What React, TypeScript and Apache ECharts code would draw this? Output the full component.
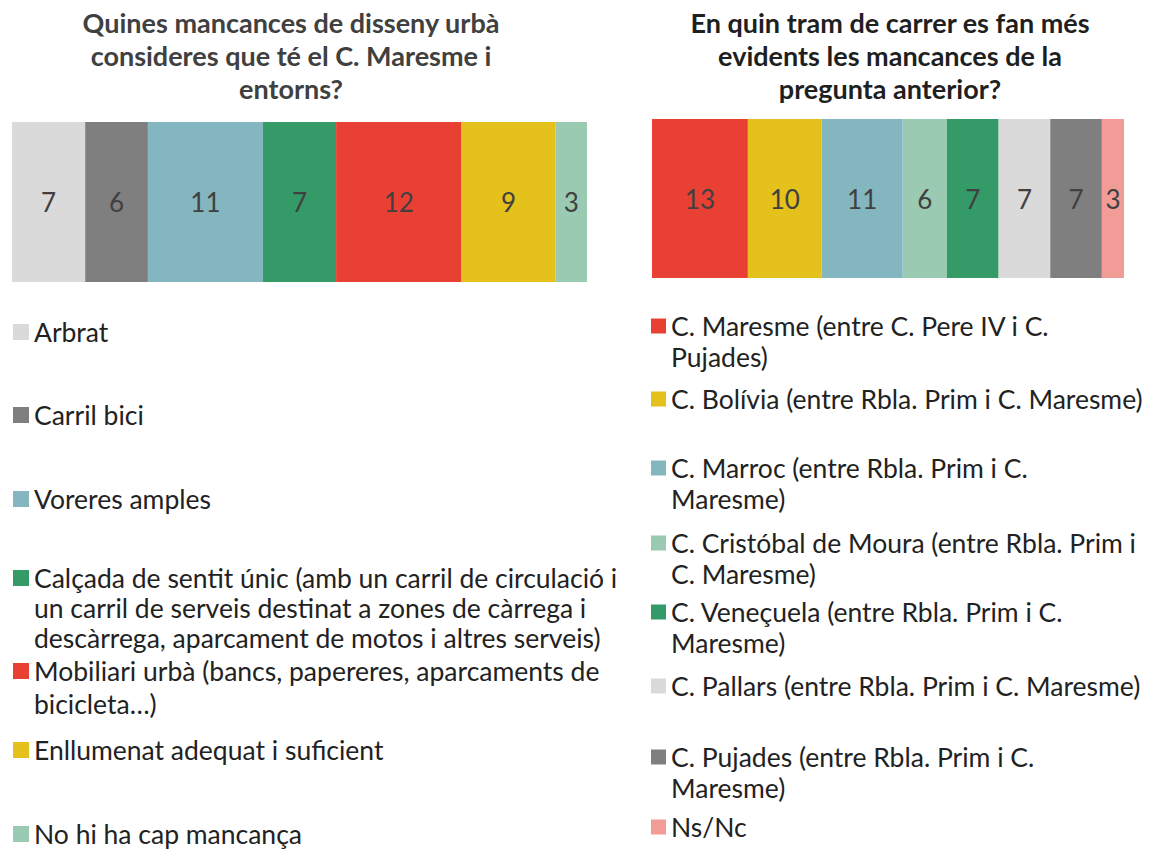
import React, { useEffect, useRef } from "react";
import * as echarts from "echarts";

const leftTitle = "Quines mancances de disseny urbà\nconsideres que té el C. Maresme i\nentorns?";
const rightTitle = "En quin tram de carrer es fan més\nevidents les mancances de la\npregunta anterior?";

const leftCategories = [
  "Arbrat",
  "Carril bici",
  "Voreres amples",
  "Calçada de sentit únic (amb un carril de circulació i un carril de serveis destinat a zones de càrrega i descàrrega, aparcament de motos i altres serveis)",
  "Mobiliari urbà (bancs, papereres, aparcaments de bicicleta…)",
  "Enllumenat adequat i suficient",
  "No hi ha cap mancança",
];
const leftValues = [7, 6, 11, 7, 12, 9, 3];
const leftColors = ["#DADADA", "#7F7F7F", "#84B6C0", "#349A67", "#E94034", "#E5C11B", "#9BCAB2"];
const leftLegendText = [
  "Arbrat",
  "Carril bici",
  "Voreres amples",
  "Calçada de sentit únic (amb un carril de circulació i\nun carril de serveis destinat a zones de càrrega i\ndescàrrega, aparcament de motos i altres serveis)",
  "Mobiliari urbà (bancs, papereres, aparcaments de\nbicicleta…)",
  "Enllumenat adequat i suficient",
  "No hi ha cap mancança",
];
const leftLegendY = [332, 415, 499, 578, 671, 750, 834];
const leftLegendLH = [32.5, 32.5, 32.5, 30, 32.5, 32.5, 32.5];

const rightCategories = [
  "C. Maresme (entre C. Pere IV i C. Pujades)",
  "C. Bolívia (entre Rbla. Prim i C. Maresme)",
  "C. Marroc (entre Rbla. Prim i C. Maresme)",
  "C. Cristóbal de Moura (entre Rbla. Prim i C. Maresme)",
  "C. Veneçuela (entre Rbla. Prim i C. Maresme)",
  "C. Pallars (entre Rbla. Prim i C. Maresme)",
  "C. Pujades (entre Rbla. Prim i C. Maresme)",
  "Ns/Nc",
];
const rightValues = [13, 10, 11, 6, 7, 7, 7, 3];
const rightColors = ["#E94034", "#E5C11B", "#84B6C0", "#9BCAB2", "#349A67", "#DADADA", "#7F7F7F", "#F19C96"];
const rightLegendText = [
  "C. Maresme (entre C. Pere IV i C.\nPujades)",
  "C. Bolívia (entre Rbla. Prim i C. Maresme)",
  "C. Marroc (entre Rbla. Prim i C.\nMaresme)",
  "C. Cristóbal de Moura (entre Rbla. Prim i\nC. Maresme)",
  "C. Veneçuela (entre Rbla. Prim i C.\nMaresme)",
  "C. Pallars (entre Rbla. Prim i C. Maresme)",
  "C. Pujades (entre Rbla. Prim i C.\nMaresme)",
  "Ns/Nc",
];
const rightLegendY = [326, 399, 468, 543, 612, 686, 757, 827];
const rightLegendLH = [31, 31, 31, 31, 31, 31, 31, 31];

const FONT = "Lato";

function makeLegends(names: string[], texts: string[], ys: number[], lhs: number[], left: number, icon: number) {
  return names.map((name, i) => {
    const lines = texts[i].split("\n");
    const n = lines.length;
    const lh = lhs[i];
    // blank lines before the text so the icon lines up with the first line
    const shown = new Array(n - 1).fill(" ").concat(lines).join("\n");
    const H = (2 * n - 1) * lh;
    return {
      data: [name],
      left,
      top: ys[i] - H / 2,
      orient: "vertical",
      icon: "rect",
      itemWidth: icon,
      itemHeight: icon,
      padding: 0,
      selectedMode: false,
      formatter: () => shown,
      textStyle: {
        fontFamily: FONT,
        fontSize: 26.5,
        lineHeight: lh,
        color: "#222222",
      },
    };
  });
}

export default function App() {
  const ref = useRef<HTMLDivElement>(null);
  useEffect(() => {
    if (!ref.current) return;
    const chart = echarts.init(ref.current, null, { renderer: "svg" });
    const sumL = leftValues.reduce((a, b) => a + b, 0);
    const sumR = rightValues.reduce((a, b) => a + b, 0);
    const label = {
      show: true,
      position: "inside",
      fontFamily: FONT,
      fontSize: 26,
      color: "#404040",
    };
    const series: any[] = [];
    leftCategories.forEach((name, i) => {
      series.push({
        type: "bar",
        name,
        stack: "left",
        xAxisIndex: 0,
        yAxisIndex: 0,
        barWidth: "100%",
        itemStyle: { color: leftColors[i] },
        label,
        data: [leftValues[i]],
      });
    });
    rightCategories.forEach((name, i) => {
      series.push({
        type: "bar",
        name,
        stack: "right",
        xAxisIndex: 1,
        yAxisIndex: 1,
        barWidth: "100%",
        itemStyle: { color: rightColors[i] },
        label,
        data: [rightValues[i]],
      });
    });
    chart.setOption({
      animation: false,
      title: [
        {
          text: leftTitle,
          left: 291,
          top: 6,
          textAlign: "center",
          padding: 0,
          textStyle: { fontFamily: FONT, fontSize: 27, fontWeight: "bold", lineHeight: 33, color: "#404040" },
        },
        {
          text: rightTitle,
          left: 890,
          top: 6,
          textAlign: "center",
          padding: 0,
          textStyle: { fontFamily: FONT, fontSize: 27, fontWeight: "bold", lineHeight: 33, color: "#1f1f1f" },
        },
      ],
      legend: [
        ...makeLegends(leftCategories, leftLegendText, leftLegendY, leftLegendLH, 13, 16),
        ...makeLegends(rightCategories, rightLegendText, rightLegendY, rightLegendLH, 651, 15),
      ],
      grid: [
        { left: 12, top: 122, width: 575, height: 160 },
        { left: 652, top: 119, width: 472, height: 159 },
      ],
      xAxis: [
        { type: "value", gridIndex: 0, min: 0, max: sumL, show: false },
        { type: "value", gridIndex: 1, min: 0, max: sumR, show: false },
      ],
      yAxis: [
        { type: "category", gridIndex: 0, data: [""], show: false },
        { type: "category", gridIndex: 1, data: [""], show: false },
      ],
      series,
    });
    return () => chart.dispose();
  }, []);
  return (
    <div
      ref={ref}
      style={{ position: "fixed", left: 0, top: 0, width: 1153, height: 850, background: "#fff" }}
    />
  );
}
